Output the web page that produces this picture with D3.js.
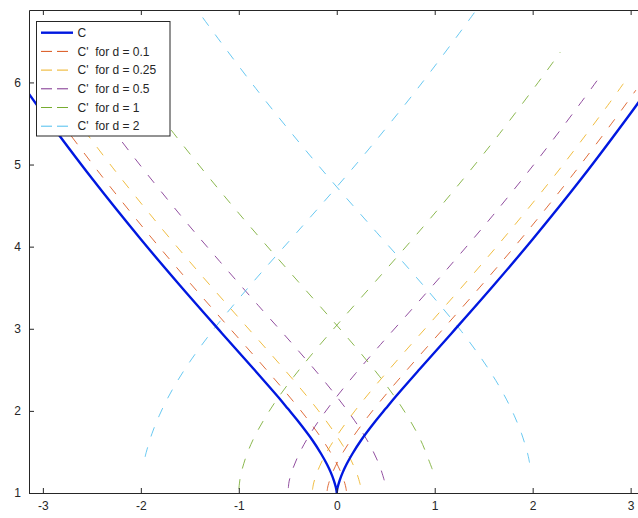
<html lang="en">
<head>
<meta charset="utf-8">
<title>C and parallel curves</title>
<style>
  body { margin: 0; background: #fff; }
  text { font-family: "Liberation Sans", Arial, sans-serif; fill: #262626; }
</style>
<script src="https://d3js.org/d3.v7.min.js"></script>
</head>
<body>
<svg id="chart" width="638" height="518"></svg>
<script>
// ---- data ----
var xTicks = [-3, -2, -1, 0, 1, 2, 3];
var yTicks = [1, 2, 3, 4, 5, 6];

// the curve C (cusp at (0,1))
var curveC = [[-3.14,5.856],[-3.0,5.624],[-2.5,4.832],[-2.0,4.090],[-1.6,3.527],[-1.2,2.983],
  [-0.85,2.513],[-0.6,2.172],[-0.5,2.028],[-0.4,1.882],[-0.25,1.645],[-0.16,1.478],[-0.1,1.35],[-0.06,1.248],
  [-0.03,1.155],[-0.01,1.074],[-0.004,1.04],[-0.001,1.016],[0,1],
  [0.001,1.016],[0.004,1.04],[0.01,1.074],[0.03,1.155],[0.06,1.248],[0.1,1.35],[0.16,1.478],
  [0.25,1.645],[0.4,1.882],[0.5,2.028],[0.6,2.172],[0.85,2.513],[1.2,2.983],[1.6,3.527],[2.0,4.090],
  [2.5,4.832],[3.0,5.624],[3.14,5.856]];

// C' for d = 0.1
var d01a = [[0.0985,1.025],[0.0949,1.054],[0.0879,1.093],[0.0658,1.179],[0.0337,1.275],[-0.0084,1.378],
  [-0.0709,1.509],[-0.1634,1.679],[-0.3162,1.927],[-0.5183,2.223],[-0.7695,2.571],[-1.1197,3.043],
  [-1.519,3.586],[-1.918,4.147],[-2.416,4.886],[-2.915,5.676],[-3.054,5.907]];
var d01b = [[-0.0985,1.025],[-0.0949,1.054],[-0.0879,1.093],[-0.0658,1.179],[-0.0337,1.275],[0.0084,1.378],
  [0.0709,1.509],[0.1634,1.679],[0.3162,1.927],[0.5183,2.223],[0.7695,2.571],[1.1197,3.043],
  [1.519,3.586],[1.918,4.147],[2.416,4.886],[2.915,5.676],[3.054,5.907]];

// C' for d = 0.25
var d025a = [[0.24,1.10],[0.235,1.123],[0.210,1.222],[0.174,1.327],[0.129,1.439],[0.063,1.577],
  [-0.034,1.754],[-0.191,2.009],[-0.396,2.310],[-0.649,2.660],[-0.999,3.132],[-1.398,3.674],
  [-1.795,4.233],[-2.291,4.968],[-2.787,5.754],[-2.925,5.984]];
var d025b = [[-0.248,1.040],[-0.243,1.077],[-0.235,1.123],[-0.210,1.222],[-0.174,1.327],[-0.129,1.439],
  [-0.063,1.577],[0.034,1.754],[0.191,2.009],[0.396,2.310],[0.649,2.660],[0.999,3.132],[1.398,3.674],
  [1.795,4.233],[2.291,4.968],[2.787,5.754],[2.925,5.984]];

// C' for d = 0.5
var d05a = [[0.485,1.155],[0.449,1.293],[0.408,1.415],[0.358,1.539],[0.286,1.691],[0.183,1.880],
  [0.019,2.145],[-0.191,2.454],[-0.447,2.808],[-0.799,3.281],[-1.195,3.821],[-1.590,4.375],
  [-2.081,5.105],[-2.573,5.884],[-2.711,6.112]];
var d05b = [[-0.494,1.06],[-0.490,1.115],[-0.480,1.174],[-0.449,1.293],[-0.408,1.415],[-0.358,1.539],
  [-0.286,1.691],[-0.183,1.880],[-0.019,2.145],[0.191,2.454],[0.447,2.808],[0.799,3.281],[1.195,3.821],
  [1.590,4.375],[2.081,5.105],[2.573,5.884],[2.711,6.112]];

// C' for d = 1
var d1a = [[0.975,1.29],[0.928,1.436],[0.877,1.590],[0.816,1.740],[0.731,1.917],[0.616,2.130],
  [0.438,2.418],[0.217,2.742],[-0.045,3.104],[-0.397,3.579],[-0.790,4.114],[-1.179,4.661],
  [-1.663,5.378],[-2.146,6.145],[-2.282,6.369]];
var d1b = [[-0.999,1.048],[-0.994,1.111],[-0.985,1.190],[-0.969,1.275],[-0.928,1.436],[-0.877,1.590],
  [-0.816,1.740],[-0.731,1.917],[-0.616,2.130],[-0.438,2.418],[-0.217,2.742],[0.045,3.104],
  [0.397,3.579],[0.790,4.114],[1.179,4.661],[1.663,5.378],[2.146,6.145],[2.282,6.369]];

// C' for d = 2
var d2a = [[1.968,1.370],[1.949,1.477],[1.887,1.721],[1.813,1.940],[1.731,2.143],[1.623,2.371],
  [1.481,2.631],[1.276,2.964],[1.034,3.318],[0.761,3.697],[0.406,4.175],[0.019,4.701],
  [-0.358,5.232],[-0.825,5.925],[-1.292,6.665],[-1.424,6.882]];
var d2b = [[-1.956,1.440],[-1.949,1.477],[-1.887,1.721],[-1.813,1.940],[-1.731,2.143],[-1.623,2.371],
  [-1.481,2.631],[-1.276,2.964],[-1.034,3.318],[-0.761,3.697],[-0.406,4.175],[-0.019,4.701],
  [0.358,5.232],[0.825,5.925],[1.292,6.665],[1.424,6.882]];

var legendLabels = ["C", "C'  for d = 0.1", "C'  for d = 0.25", "C'  for d = 0.5", "C'  for d = 1", "C'  for d = 2"];
var colors = ["#0018e0", "#d95319", "#edb120", "#7e2f8e", "#77ac30", "#4dbeee"];

// series list (index into colors / legend)
var series = [
  {k: 1, pts: d01a}, {k: 1, pts: d01b},
  {k: 2, pts: d025a}, {k: 2, pts: d025b},
  {k: 3, pts: d05a}, {k: 3, pts: d05b},
  {k: 4, pts: d1a}, {k: 4, pts: d1b},
  {k: 5, pts: d2a}, {k: 5, pts: d2b}
];

// ---- layout ----
var axL = 29, axR = 644.5, axT = 10, axB = 493;
var svg = d3.select("#chart");

var x = d3.scaleLinear().domain([-Math.PI, Math.PI]).range([axL, axR]);
var y = d3.scaleLinear().domain([1, 6.882]).range([axB, axT]);

svg.append("defs").append("clipPath").attr("id", "plotclip")
  .append("rect").attr("x", axL).attr("y", axT).attr("width", axR - axL).attr("height", axB - axT);

var line = d3.line()
  .x(function(d) { return x(d[0]); })
  .y(function(d) { return y(d[1]); })
  .curve(d3.curveCatmullRom.alpha(0.5));

var plot = svg.append("g").attr("clip-path", "url(#plotclip)");

plot.selectAll("path.off")
  .data(series)
  .enter()
  .append("path")
    .attr("class", "off")
    .attr("d", function(d) { return line(d.pts); })
    .attr("fill", "none")
    .attr("stroke", function(d) { return colors[d.k]; })
    .attr("stroke-width", 1)
    .attr("stroke-opacity", 0.85)
    .attr("stroke-dasharray", "10,11");

plot.append("path")
  .attr("d", line(curveC))
  .attr("fill", "none")
  .attr("stroke", colors[0])
  .attr("stroke-width", 2.4);

// ---- axes (MATLAB style box, ticks inward) ----
var axColor = "#262626";
var gx = svg.append("g").attr("transform", "translate(0," + axB + ")")
  .call(d3.axisBottom(x).tickValues(xTicks).tickSizeInner(-5).tickSizeOuter(0).tickPadding(8));
var gxt = svg.append("g").attr("transform", "translate(0," + axT + ")")
  .call(d3.axisTop(x).tickValues(xTicks).tickSizeInner(-5).tickSizeOuter(0).tickFormat(""));
var gy = svg.append("g").attr("transform", "translate(" + axL + ",0)")
  .call(d3.axisLeft(y).tickValues(yTicks).tickSizeInner(-5).tickSizeOuter(0).tickPadding(8)
    .tickFormat(d3.format("d")));

[gx, gxt, gy].forEach(function(g) {
  g.selectAll(".domain").attr("stroke", axColor).attr("stroke-width", 1);
  g.selectAll(".tick line").attr("stroke", axColor).attr("stroke-width", 1);
  g.selectAll(".tick text").style("font-size", "12px").style("fill", axColor)
    .style("font-family", "'Liberation Sans', Arial, sans-serif");
});
gx.selectAll(".tick text").text(function(d) { return d < 0 ? "-" + Math.abs(d) : d; });

// ---- legend ----
var lg = svg.append("g");
lg.append("rect")
  .attr("x", 36.5).attr("y", 21.5).attr("width", 133.5).attr("height", 114.5)
  .attr("fill", "#fff").attr("stroke", axColor).attr("stroke-width", 1);

var rows = lg.selectAll("g.row")
  .data(legendLabels)
  .enter()
  .append("g")
    .attr("class", "row")
    .attr("transform", function(d, i) { return "translate(0," + (32.7 + i * 18.7) + ")"; });

rows.append("line")
  .attr("x1", 41).attr("x2", 73).attr("y1", 0).attr("y2", 0)
  .attr("stroke", function(d, i) { return colors[i]; })
  .attr("stroke-width", function(d, i) { return i === 0 ? 2.4 : 1; })
  .attr("stroke-dasharray", function(d, i) { return i === 0 ? null : "11,5"; });

rows.append("text")
  .attr("x", 77.5).attr("y", 4.2)
  .style("font-size", "12px")
  .style("white-space", "pre")
  .attr("xml:space", "preserve")
  .text(function(d) { return d; });
</script>
</body>
</html>
